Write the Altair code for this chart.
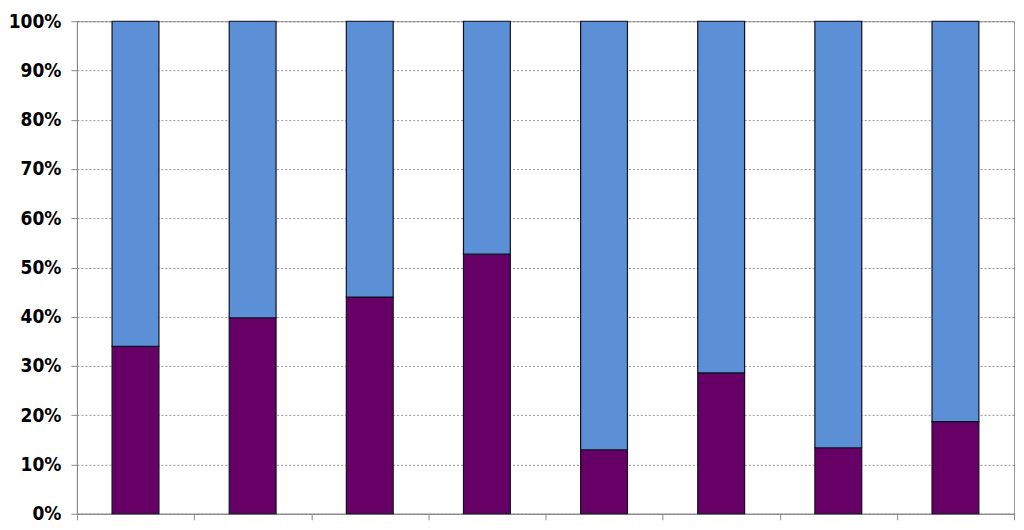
import altair as alt
import pandas as pd

categories = ["A", "B", "C", "D", "E", "F", "G", "H"]
lower_share = [0.34, 0.398, 0.44, 0.527, 0.13, 0.286, 0.134, 0.187]
upper_share = [1 - v for v in lower_share]

rows = []
for c, lo, up in zip(categories, lower_share, upper_share):
    rows.append({"cat": c, "series": "lower", "value": lo, "ord": 0})
    rows.append({"cat": c, "series": "upper", "value": up, "ord": 1})
df = pd.DataFrame(rows)

font = "DejaVu Sans Condensed"

chart = alt.Chart(df).mark_bar(stroke="#111122", strokeWidth=1.2,
                               width=alt.RelativeBandSize(0.4)).encode(
    x=alt.X("cat:N", sort=categories, title=None,
            scale=alt.Scale(paddingInner=0, paddingOuter=0),
            axis=alt.Axis(labels=False, tickBand="extent", ticks=True, tickSize=6,
                          tickColor="#888888", domainColor="#888888", grid=False)),
    y=alt.Y("value:Q", stack="zero", title=None,
            scale=alt.Scale(domain=[0, 1], nice=False),
            axis=alt.Axis(format=".0%", values=[i / 10 for i in range(11)],
                          tickSize=6, tickColor="#888888", domainColor="#888888",
                          gridColor="#666666", gridDash=[2, 2], gridWidth=0.7,
                          labelFont=font, labelFontSize=19, labelFontWeight="bold",
                          labelColor="#000000", labelPadding=10)),
    color=alt.Color("series:N", scale=alt.Scale(domain=["lower", "upper"],
                                                range=["#660066", "#5B8FD6"]), legend=None),
    order=alt.Order("ord:Q"),
).properties(
    width=938, height=493,
    autosize=alt.AutoSizeParams(type="none"),
    padding={"left": 69, "top": 13, "right": 2, "bottom": 10},
).configure_view(stroke="#999999", strokeWidth=1)

chart.save("out.html", embed_options={"renderer": "svg", "actions": False})
